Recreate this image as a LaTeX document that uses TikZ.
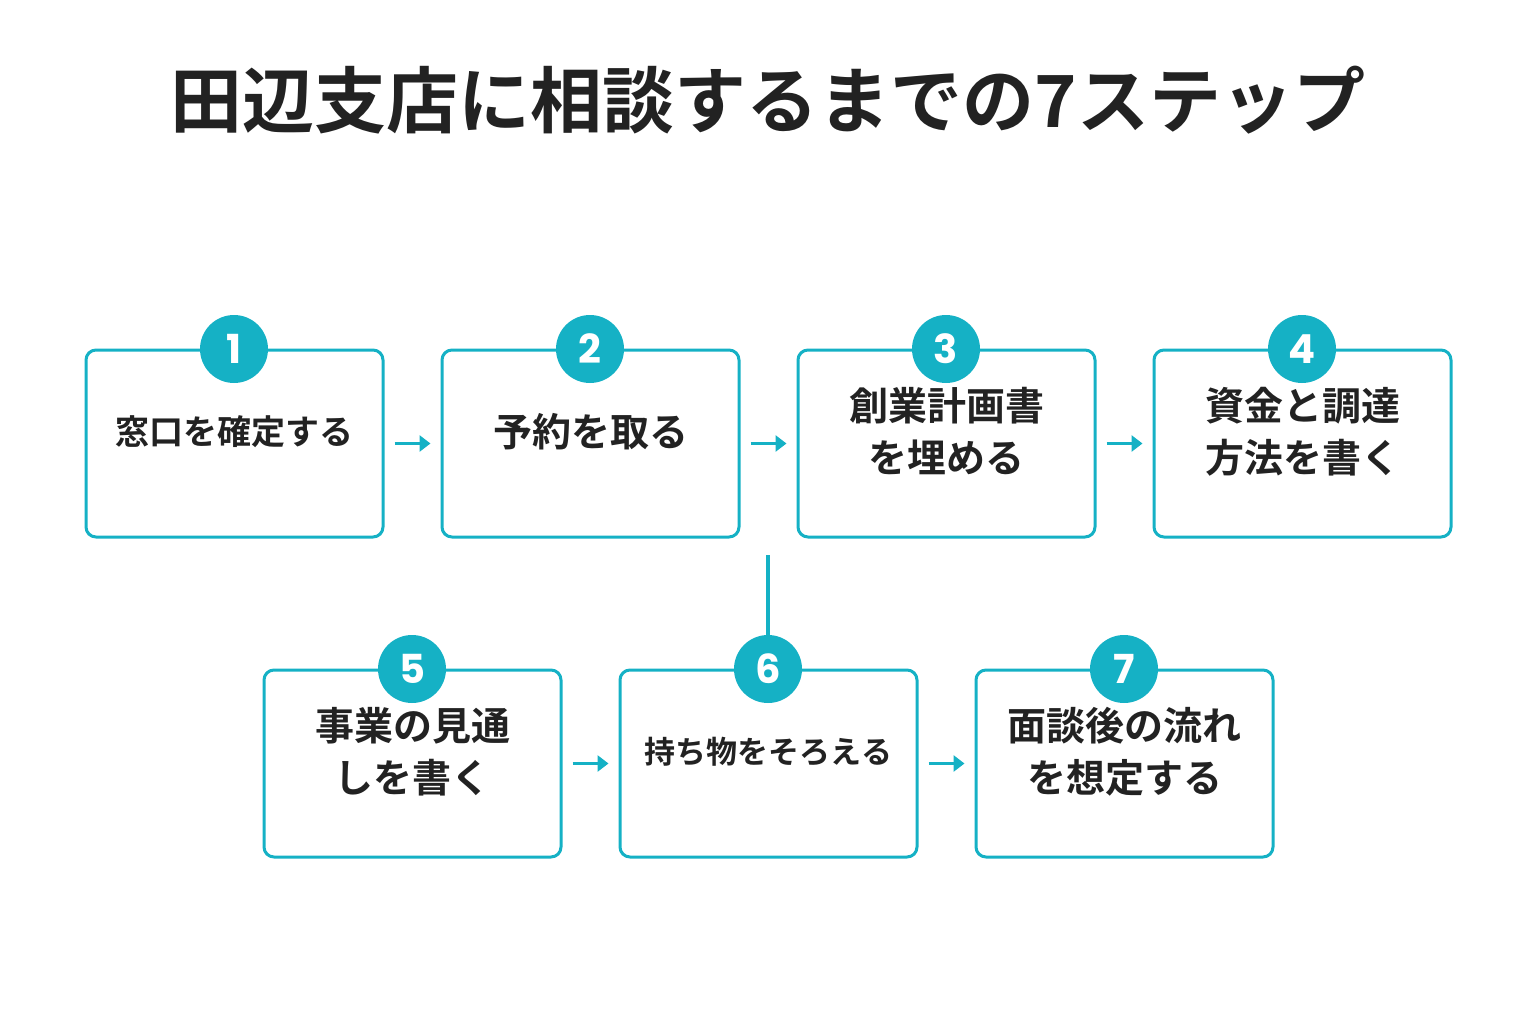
\documentclass[tikz,border=0pt]{standalone}
\usepackage{fontspec}
\usetikzlibrary{arrows.meta}
\setmainfont{Noto Sans CJK JP}[BoldFont={* Bold}]
\newfontfamily\cjkb{Noto Sans CJK JP Bold}
\newfontfamily\numf{Poppins Bold}
\definecolor{tl}{HTML}{15B1C5}
\definecolor{tx}{HTML}{222222}
\begin{document}
\begin{tikzpicture}[x=1pt,y=-1pt,
 box/.style={draw=tl,line width=3pt,rounded corners=10pt,minimum width=297pt,minimum height=187pt,align=center,text=tx,font=\cjkb\fontsize{39}{52}\selectfont,text depth=0pt},
 lbl/.style={align=center,text=tx,font=\cjkb\fontsize{39}{52}\selectfont},
 num/.style={circle,fill=tl,minimum size=68pt,inner sep=0pt,text=white,font=\numf\fontsize{40}{40}\selectfont},
 arr/.style={tl,line width=3.5pt,-{Triangle[length=11pt,width=16pt]}}]
\useasboundingbox (0,0) rectangle (1536,1024);
\node[text=tx,font=\cjkb\fontsize{72}{80}\selectfont] (t) at (768,100) {田辺支店に相談するまでの7ステップ};
\foreach \n/\x/\y in {b1/234.5/443.5,b2/590.5/443.5,b3/946.5/443.5,b4/1302.5/443.5,b5/412.5/763.5,b6/768.5/763.5,b7/1124.5/763.5}
  \node[box] (\n) at (\x,\y) {};
\node[lbl,font=\cjkb\fontsize{34}{48}\selectfont] (l1) at ([yshift=12pt]b1.center) {窓口を確定する};
\node[lbl] (l2) at ([yshift=12pt]b2.center) {予約を取る};
\node[lbl] (l3) at ([yshift=12pt]b3.center) {創業計画書\\を埋める};
\node[lbl] (l4) at ([yshift=12pt]b4.center) {資金と調達\\方法を書く};
\node[lbl] (l5) at ([yshift=12pt]b5.center) {事業の見通\\しを書く};
\node[lbl,font=\cjkb\fontsize{31}{40}\selectfont] (l6) at ([yshift=12pt]b6.center) {持ち物をそろえる};
\node[lbl] (l7) at ([yshift=12pt]b7.center) {面談後の流れ\\を想定する};
\foreach \i/\x/\y in {1/234/349,2/590/349,3/946/349,4/1302/349,5/412/669,6/768/669,7/1124/669}
  \node[num] (n\i) at (\x,\y) {\i};
\coordinate (v) at (768,555);
\draw[tl,line width=3.5pt] (v) -- (n6.north);
\foreach \a/\b in {b1/b2,b2/b3,b3/b4,b5/b6,b6/b7}
  \draw[arr] ([xshift=10pt]\a.east) -- ([xshift=-10pt]\b.west);
\end{tikzpicture}
\end{document}
